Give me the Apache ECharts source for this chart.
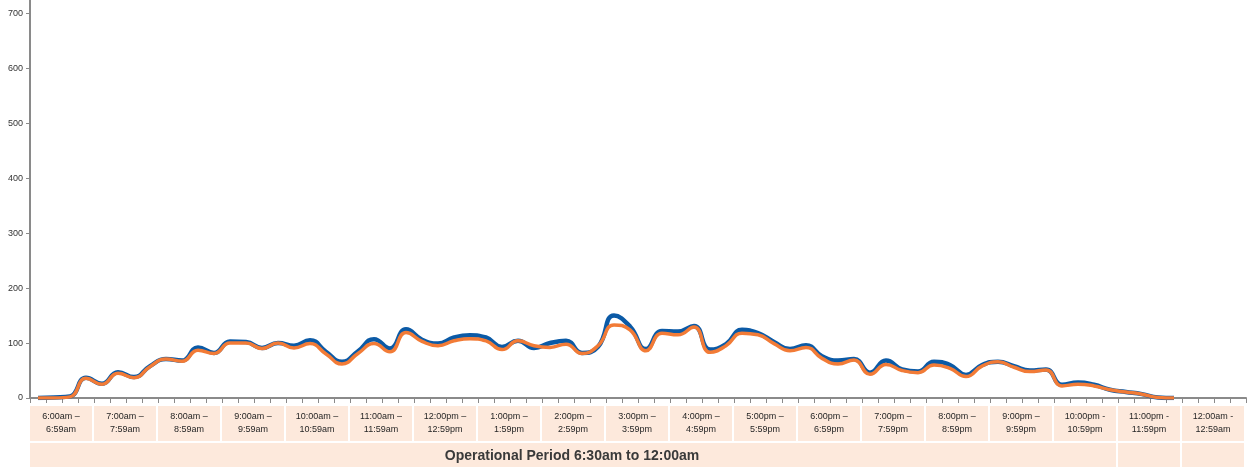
<!DOCTYPE html>
<html>
<head>
<meta charset="utf-8">
<script src="https://cdn.jsdelivr.net/npm/echarts@6/dist/echarts.min.js"></script>
<style>
  html, body { margin: 0; padding: 0; background: #ffffff; }
  #chart { width: 1248px; height: 467px; }
</style>
</head>
<body>
<div id="chart"></div>
<script>
// Quarter-hour slots from 6:00am to 12:45am (76 slots, 4 per hour)
const slotCount = 76;
const slots = Array.from({ length: slotCount }, (_, i) => 'q' + i);

// Hour bands shown beneath the axis
const hourLabels = [
  ['6:00am –', '6:59am'], ['7:00am –', '7:59am'], ['8:00am –', '8:59am'],
  ['9:00am –', '9:59am'], ['10:00am –', '10:59am'], ['11:00am –', '11:59am'],
  ['12:00pm –', '12:59pm'], ['1:00pm –', '1:59pm'], ['2:00pm –', '2:59pm'],
  ['3:00pm –', '3:59pm'], ['4:00pm –', '4:59pm'], ['5:00pm –', '5:59pm'],
  ['6:00pm –', '6:59pm'], ['7:00pm –', '7:59pm'], ['8:00pm –', '8:59pm'],
  ['9:00pm –', '9:59pm'], ['10:00pm -', '10:59pm'], ['11:00pm -', '11:59pm'],
  ['12:00am -', '12:59am']
];
const periodLabel = 'Operational Period 6:30am to 12:00am';
const periodHours = 17; // 6:00am through 10:59pm band

// Volumes per quarter hour, 6:00am to 11:45pm
const seriesBlue = [
  0, 1, 3, 37, 26, 47, 38, 58, 71, 68, 92, 82, 103, 102, 91, 100,
  95, 105, 84, 66, 85, 107, 90, 125, 106, 99, 110, 114, 110, 93, 104, 91,
  100, 104, 82, 93, 150, 130, 89, 122, 121, 131, 88, 98, 124, 118, 102, 89,
  96, 76, 68, 71, 46, 68, 52, 48, 66, 60, 42, 60, 66, 58, 50, 52,
  24, 28, 24, 15, 11, 7, 1, 0
];
const seriesOrange = [
  0, 0, 2, 36, 25, 45, 37, 57, 71, 67, 87, 81, 100, 100, 90, 100,
  91, 99, 80, 62, 81, 99, 84, 119, 103, 95, 104, 108, 104, 88, 104, 95,
  92, 98, 81, 95, 133, 124, 86, 118, 115, 129, 83, 95, 118, 115, 99, 86,
  92, 72, 62, 69, 43, 61, 50, 46, 60, 54, 39, 58, 66, 56, 48, 51,
  22, 25, 22, 15, 11, 7, 1, 0
];

// Value axis: ticks every 100, the top of the plot sits just above 700
const yTicks = { min: 0, max: 724, interval: 100 };

const chart = echarts.init(document.getElementById('chart'), null, { renderer: 'canvas' });

const gridLeft = 30, gridRight = 2, gridTop = 0, gridBottom = 69;

chart.setOption({
  animation: false,
  backgroundColor: '#ffffff',
  grid: { left: gridLeft, right: gridRight, top: gridTop, bottom: gridBottom, containLabel: false },
  xAxis: {
    type: 'category',
    data: slots,
    boundaryGap: true,
    axisLine: { lineStyle: { color: '#8a8a8a', width: 2 } },
    axisTick: { show: true, interval: 0, length: 5, lineStyle: { color: '#8a8a8a', width: 1 } },
    axisLabel: { show: false },
    splitLine: { show: false }
  },
  yAxis: {
    type: 'value',
    min: yTicks.min,
    max: yTicks.max,
    interval: yTicks.interval,
    axisLine: { show: true, lineStyle: { color: '#8a8a8a', width: 2 } },
    axisTick: { show: true, length: 4, lineStyle: { color: '#8a8a8a', width: 1 } },
    axisLabel: {
      color: '#333333', fontSize: 9, fontFamily: 'Liberation Sans, Arial, sans-serif', margin: 7,
      showMaxLabel: false,
      formatter: (v) => (v % yTicks.interval === 0 ? String(v) : '')
    },
    splitLine: { show: false }
  },
  series: [
    {
      name: 'Blue',
      type: 'line',
      data: seriesBlue,
      smooth: 0.5,
      showSymbol: false,
      lineStyle: { color: '#0b5aa6', width: 4.5 },
      z: 2
    },
    {
      name: 'Orange',
      type: 'line',
      data: seriesOrange,
      smooth: 0.5,
      showSymbol: false,
      lineStyle: { color: '#f27b36', width: 3.5 },
      z: 3
    }
  ]
});

// Table of hour bands and the operational period row under the axis
function buildTable() {
  const c0 = chart.convertToPixel({ xAxisIndex: 0 }, slots[0]);
  const c1 = chart.convertToPixel({ xAxisIndex: 0 }, slots[1]);
  const slotW = c1 - c0;
  const start = c0 - slotW / 2;
  const zeroY = chart.convertToPixel({ yAxisIndex: 0 }, 0);
  const row1Top = zeroY + 8, row1H = 35;
  const row2Top = row1Top + row1H + 2, row2H = 467 - (row1Top + row1H + 2);
  const fill = '#fde9dc';
  const font = 'Liberation Sans, Arial, sans-serif';
  const els = [];
  hourLabels.forEach((lab, h) => {
    const x0 = start + h * 4 * slotW;
    const w = 4 * slotW - 2;
    els.push({ type: 'rect', shape: { x: x0, y: row1Top, width: w, height: row1H }, style: { fill: fill }, silent: true });
    els.push({
      type: 'text',
      x: x0 + w / 2, y: row1Top + row1H / 2,
      style: { text: lab[0] + '\n' + lab[1], fill: '#262626', font: '9px ' + font, align: 'center', verticalAlign: 'middle', lineHeight: 13 },
      silent: true
    });
  });
  // period band
  const pW = periodHours * 4 * slotW - 2;
  els.push({ type: 'rect', shape: { x: start, y: row2Top, width: pW, height: row2H }, style: { fill: fill }, silent: true });
  els.push({
    type: 'text',
    x: start + pW / 2 - 1, y: row2Top + row2H / 2 + 1,
    style: { text: periodLabel, fill: '#3a3a3a', font: 'bold 14px ' + font, align: 'center', verticalAlign: 'middle' },
    silent: true
  });
  for (let h = periodHours; h < hourLabels.length; h++) {
    const x0 = start + h * 4 * slotW;
    els.push({ type: 'rect', shape: { x: x0, y: row2Top, width: 4 * slotW - 2, height: row2H }, style: { fill: fill }, silent: true });
  }
  chart.setOption({ graphic: { elements: els } });
}
buildTable();
</script>
</body>
</html>
